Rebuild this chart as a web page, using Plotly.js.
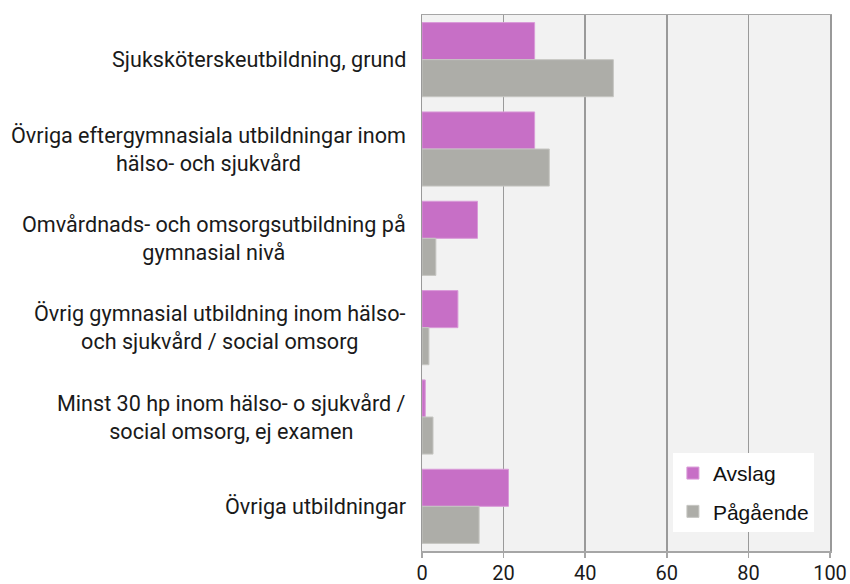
<!DOCTYPE html>
<html>
<head>
<meta charset="utf-8">
<script src="https://cdn.plot.ly/plotly-3.0.1.min.js"></script>
<style>
  html, body { margin: 0; padding: 0; background: #fff; }
  #chart { width: 850px; height: 584px; }
</style>
</head>
<body>
<div id="chart"></div>
<script>
// categories from top to bottom
const categories = [
    'Sjuksköterskeutbildning, grund',
    'Övriga eftergymnasiala utbildningar inom<br>hälso- och sjukvård',
    'Omvårdnads- och omsorgsutbildning på<br>gymnasial nivå',
    'Övrig gymnasial utbildning inom hälso-<br>och sjukvård / social omsorg',
    'Minst 30 hp inom hälso- o sjukvård /<br>social omsorg, ej examen',
    'Övriga utbildningar'
];
const avslag = [27.6, 27.6, 13.6, 8.8, 0.8, 21.2];
const pagaende = [46.9, 31.2, 3.4, 1.7, 2.7, 14.0];
const xTicks = [0, 20, 40, 60, 80, 100];

const labelFont = { family: 'Roboto, "Liberation Sans", sans-serif', size: 21.6, color: '#1a1a1a' };

const traces = [
    { type: 'bar', orientation: 'h', name: 'Avslag', legendgroup: 'a', y: categories, x: avslag,
      marker: { color: '#c76fc6', line: { color: '#d99ad8', width: 1 } }, hoverinfo: 'x' },
    { type: 'bar', orientation: 'h', name: 'Pågående', legendgroup: 'p', y: categories, x: pagaende,
      marker: { color: '#adada8', line: { color: '#c6c6c2', width: 1 } }, hoverinfo: 'x' }
];

// category labels as centred, multi-line annotations left of the axis
const labels = categories.map(c => ({
    text: c, xref: 'paper', x: 0, xanchor: 'right', xshift: -14,
    yref: 'y', y: c, yanchor: 'middle', align: 'center',
    showarrow: false, font: labelFont
}));

const layout = {
    width: 850, height: 584,
    margin: { t: 15, l: 422, r: 20, b: 33 },
    paper_bgcolor: '#ffffff',
    plot_bgcolor: '#f2f2f2',
    barmode: 'group',
    bargap: 0.17,
    bargroupgap: 0,
    font: labelFont,
    showlegend: true,
    legend: {
        x: 0.615, y: 0.183, xanchor: 'left', yanchor: 'top',
        bgcolor: '#ffffff', borderwidth: 0,
        traceorder: 'grouped', tracegroupgap: 8,
        font: { family: '"Liberation Sans", Arial, sans-serif', size: 21, color: '#111' }
    },
    xaxis: {
        range: [0, 100], tickvals: xTicks, ticktext: xTicks.map(String),
        showgrid: true, gridcolor: '#9a9a9a', gridwidth: 1.5,
        zeroline: false, showline: true, linecolor: '#a6a6a6', linewidth: 1.5, mirror: true,
        ticks: 'outside', ticklen: 5, tickcolor: '#a6a6a6', tickwidth: 1.5,
        tickfont: { family: 'Roboto, "Liberation Sans", sans-serif', size: 20, color: '#1a1a1a' },
        ticklabelstandoff: -2,
        fixedrange: true
    },
    yaxis: {
        autorange: 'reversed', type: 'category',
        showticklabels: false, ticks: '', showgrid: false, zeroline: false,
        showline: true, linecolor: '#999999', linewidth: 1.5, mirror: true,
        fixedrange: true
    },
    annotations: labels
};

Plotly.newPlot('chart', traces, layout, { displayModeBar: false, staticPlot: true });
</script>
</body>
</html>
